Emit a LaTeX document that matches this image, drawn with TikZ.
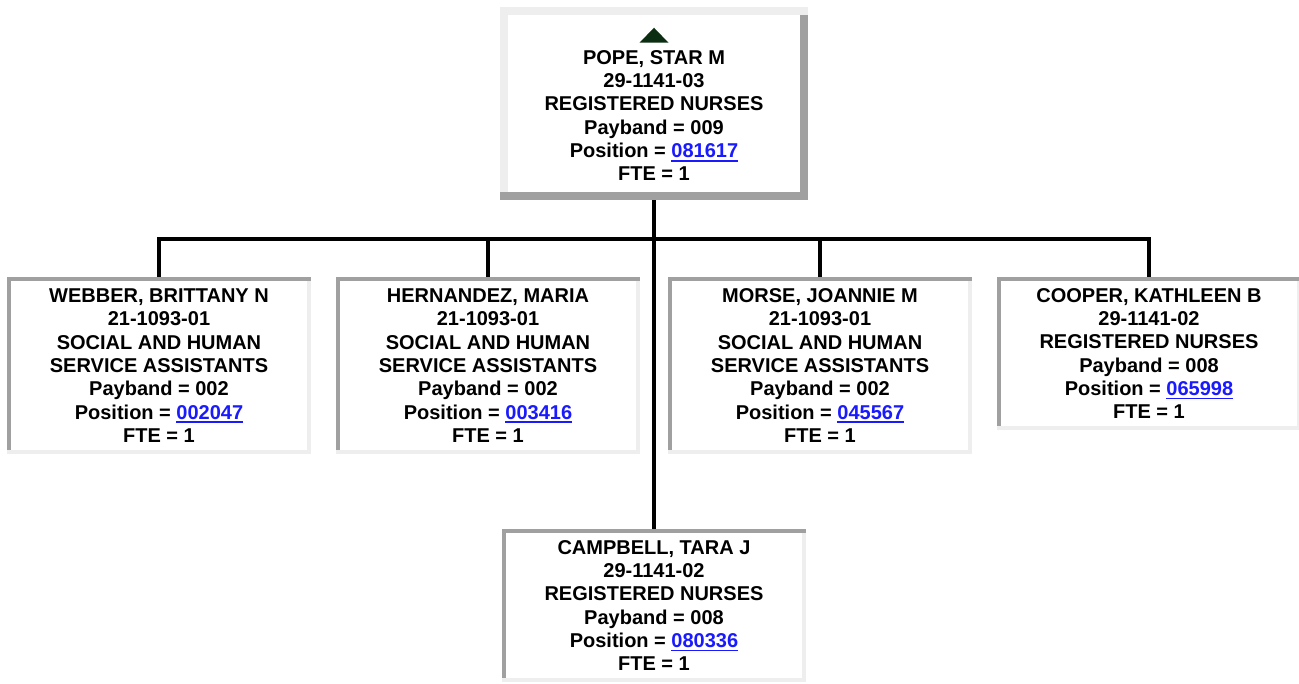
\documentclass[tikz,border=0pt]{standalone}
\usepackage{fontspec}
\setmainfont{Liberation Sans}
\usepackage{tikz}
\usetikzlibrary{positioning,calc}
\usepackage{xcolor}
\definecolor{cardLight}{HTML}{EEEEEE}
\definecolor{cardDark}{HTML}{A0A0A0}
\definecolor{linkBlue}{HTML}{1A1AFF}
\definecolor{pineGreen}{HTML}{0B2E12}
\newcommand{\poslink}[1]{{\color{linkBlue}\setbox0\hbox{#1}\rlap{\rule[-3pt]{\wd0}{1.4pt}}\box0}}

\begin{document}
\begin{tikzpicture}[
    x=0.75pt, y=-0.75pt,
    every node/.style={font=\fontsize{15pt}{17.5pt}\selectfont\bfseries, align=center, inner sep=0pt},
    bossCard/.style={rectangle, fill=white, minimum width=231pt, minimum height=144.75pt,
        path picture={
            \fill[cardLight] (path picture bounding box.north west) rectangle (path picture bounding box.south east);
            \fill[cardDark] ([xshift=-6pt, yshift=-6pt]path picture bounding box.north east) rectangle (path picture bounding box.south east);
            \fill[cardDark] (path picture bounding box.south west) rectangle ([yshift=6pt]path picture bounding box.south east);
            \fill[white] ([xshift=6pt, yshift=-6pt]path picture bounding box.north west) rectangle ([xshift=-6pt, yshift=6pt]path picture bounding box.south east);
        }},
    staffCard/.style={rectangle, fill=white, minimum width=228pt, minimum height=132.75pt,
        path picture={
            \fill[cardLight] (path picture bounding box.north west) rectangle (path picture bounding box.south east);
            \fill[cardDark] (path picture bounding box.north west) rectangle ([yshift=-3pt]path picture bounding box.north east);
            \fill[cardDark] (path picture bounding box.north west) rectangle ([xshift=3pt, yshift=3pt]path picture bounding box.south west);
            \fill[white] ([xshift=3pt, yshift=-3pt]path picture bounding box.north west) rectangle ([xshift=-3pt, yshift=3pt]path picture bounding box.south east);
        }},
    shortCard/.style={staffCard, minimum height=114.75pt},
    orgLine/.style={line width=3pt, draw=black},
    upMark/.style={fill=pineGreen}
]
    \useasboundingbox (0, 0) rectangle (1299, 683);

    % Responsabile
    \node[bossCard] (pope) at (654, 103.5) {\rule{0pt}{11pt}\\POPE, STAR M\\29-1141-03\\REGISTERED NURSES\\Payband = 009\\Position = \poslink{081617}\\FTE = 1};
    \fill[upMark] ([shift={(-14.5, 36)}]pope.north) -- ++(29, 0) -- ++(-14.5, -15) -- cycle;

    % Collaboratori
    \node[staffCard] (webber) at (159, 365.5) {WEBBER, BRITTANY N\\21-1093-01\\SOCIAL AND HUMAN\\SERVICE ASSISTANTS\\Payband = 002\\Position = \poslink{002047}\\FTE = 1};
    \node[staffCard] (hernandez) at (488, 365.5) {HERNANDEZ, MARIA\\21-1093-01\\SOCIAL AND HUMAN\\SERVICE ASSISTANTS\\Payband = 002\\Position = \poslink{003416}\\FTE = 1};
    \node[staffCard] (morse) at (820, 365.5) {MORSE, JOANNIE M\\21-1093-01\\SOCIAL AND HUMAN\\SERVICE ASSISTANTS\\Payband = 002\\Position = \poslink{045567}\\FTE = 1};
    \node[shortCard] (cooper) at (1149, 353.5) {COOPER, KATHLEEN B\\29-1141-02\\REGISTERED NURSES\\Payband = 008\\Position = \poslink{065998}\\FTE = 1};
    \node[shortCard] (campbell) at (654, 605.5) {CAMPBELL, TARA J\\29-1141-02\\REGISTERED NURSES\\Payband = 008\\Position = \poslink{080336}\\FTE = 1};

    % Collegamenti
    \coordinate (bus) at ($(pope.south |- 0, 239)$);
    \draw[orgLine] (pope.south) -- (campbell.north);
    \draw[orgLine] (webber.north) |- (bus) -| (cooper.north);
    \foreach \staff in {hernandez, morse}
        \draw[orgLine] (\staff.north) -- (\staff.north |- bus);
\end{tikzpicture}
\end{document}
